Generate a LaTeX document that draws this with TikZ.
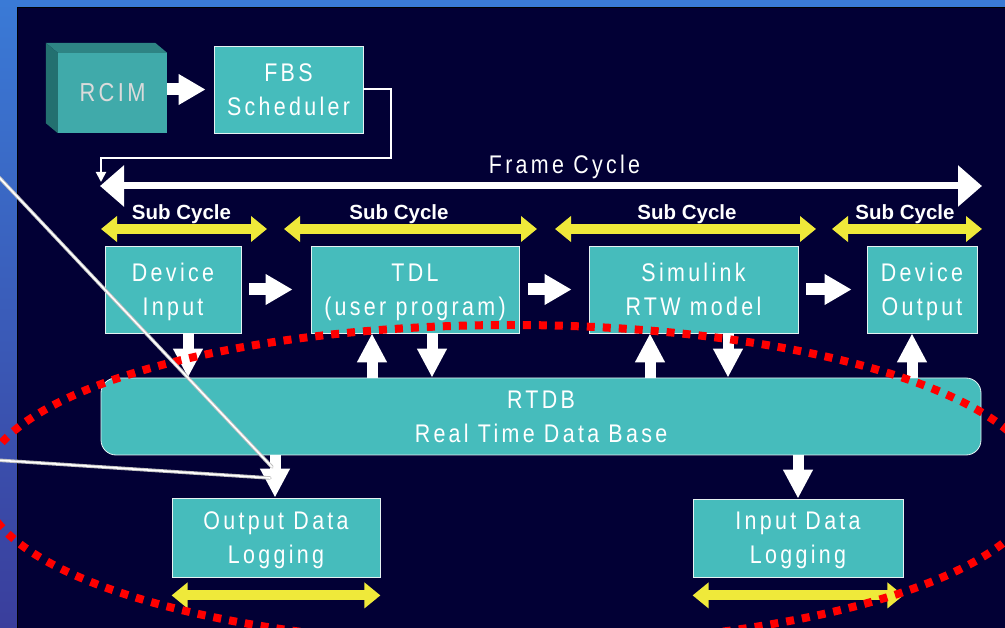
\documentclass[tikz,border=0pt]{standalone}
\usepackage{fontspec}
\setmainfont{Liberation Sans}
\newfontfamily\narrowfont{Liberation Sans}[FakeStretch=0.84,LetterSpace=13]
\usetikzlibrary{arrows.meta,calc}
\definecolor{navy}{HTML}{020035}
\definecolor{tealbox}{HTML}{46BCBC}
\definecolor{boxedge}{HTML}{E6F2F2}
\definecolor{rcfront}{HTML}{40AAAA}
\definecolor{rctop}{HTML}{2E8484}
\definecolor{rcside}{HTML}{237070}
\definecolor{subyellow}{HTML}{EFE93A}
\definecolor{stripblue}{HTML}{3A7AD6}
\definecolor{stripbot}{HTML}{3A3E9C}
\definecolor{ringred}{HTML}{FF0000}
\newcommand\boxfont{\narrowfont\fontsize{25.5}{34}\selectfont}
\tikzset{
  box/.style={draw=boxedge, line width=0.8pt, fill=tealbox, text=white, align=center, inner sep=0pt, font=\boxfont},
  harrow/.style={draw=white, line width=12pt, -{Triangle[width=29pt,length=27pt]}},
  varrow/.style={draw=white, line width=11pt, -{Triangle[width=28pt,length=29pt]}},
  yarrow/.style={draw=subyellow, line width=10pt, {Triangle[width=25pt,length=16pt]}-{Triangle[width=25pt,length=16pt]}},
  sublbl/.style={text=white, font=\bfseries\fontsize{20.5}{22}\selectfont, inner sep=0pt, anchor=base},
  thinline/.style={draw=white, line width=2pt, -{Triangle[width=10pt,length=10pt]}},
  pointer/.style={line cap=round},
}
\begin{document}
\begin{tikzpicture}[x=1pt,y=-1pt]
\useasboundingbox (0,0) rectangle (1005,628);
\clip (0,0) rectangle (1005,628);
% background
\fill[navy] (0,0) rectangle (1005,628);
\shade[top color=stripblue, bottom color=stripbot] (0,0) rectangle (17,628);
\fill[stripblue] (0,0) rectangle (1005,7);
\draw[black, line width=1.2pt] (17.6,628) -- (17.6,7.6) -- (1005,7.6);

% RCIM block
\node[fill=rcfront, minimum width=109pt, minimum height=80pt, inner sep=0pt,
      text=black!14, font=\narrowfont\fontsize{26}{30}\selectfont] (rcim) at (112.5,93) {RCIM};
\fill[rctop] (rcim.north west) -- ++(-12,-10) -- ($(rcim.north east)+(-12,-10)$) -- (rcim.north east) -- cycle;
\fill[rcside] (rcim.north west) -- ++(-12,-10) -- ($(rcim.south west)+(-12,-10)$) -- (rcim.south west) -- cycle;

% boxes
\node[box, minimum width=149pt, minimum height=87pt] (fbs) at (288.5,89.5) {FBS\\\smash{Scheduler}};
\node[box, minimum width=136pt, minimum height=87pt] (di) at (173,289.5) {Device\\\smash{Input}};
\node[box, minimum width=208pt, minimum height=87pt] (tdl) at (415,289.5) {TDL\\\smash{(user program)}};
\node[box, minimum width=209pt, minimum height=87pt] (sim) at (693.5,289.5) {Simulink\\\smash{RTW model}};
\node[box, minimum width=110pt, minimum height=87pt] (do) at (922,289.5) {Device\\\smash{Output}};
\node[box, rounded corners=15pt, minimum width=880pt, minimum height=77pt] (rtdb) at (541,416.5) {RTDB\\\smash{Real Time Data Base}};
\node[box, minimum width=208pt, minimum height=79pt] (odl) at (276,537.5) {Output Data\\\smash{Logging}};
\node[box, minimum width=210pt, minimum height=78pt] (idl) at (798,538) {Input Data\\\smash{Logging}};

% RCIM -> FBS
\draw[harrow, shorten >=8pt] (rcim.east |- fbs.west) -- (fbs.west);

% feedback line from scheduler to frame cycle
\coordinate (fbA) at (391,158);
\coordinate (fbB) at (101,182);
\draw[thinline] (fbs.east) -| (fbA) -| (fbB);

% frame cycle
\coordinate (fcl) at (100,186);
\coordinate (fcr) at (982,186);
\draw[draw=white, line width=7pt, {Triangle[width=40pt,length=24pt]}-{Triangle[width=40pt,length=24pt]}] (fcl) -- (fcr);
\node[text=white, font=\boxfont, inner sep=0pt, anchor=base] (fclab) at (564.5,174) {Frame Cycle};

% sub cycles
\coordinate (s1a) at (101,229); \coordinate (s1b) at (267,229);
\coordinate (s2a) at (284,229); \coordinate (s2b) at (537,229);
\coordinate (s3a) at (555,229); \coordinate (s3b) at (816,229);
\coordinate (s4a) at (832,229); \coordinate (s4b) at (982,229);
\draw[yarrow] (s1a) -- (s1b);
\draw[yarrow] (s2a) -- (s2b);
\draw[yarrow] (s3a) -- (s3b);
\draw[yarrow] (s4a) -- (s4b);
\node[sublbl] (sl1) at (181.5,220) {Sub Cycle};
\node[sublbl] (sl2) at (399,220) {Sub Cycle};
\node[sublbl] (sl3) at (687,220) {Sub Cycle};
\node[sublbl] (sl4) at (905,220) {Sub Cycle};

% horizontal flow
\draw[harrow, shorten <=8pt, shorten >=18pt] (di.east) -- (tdl.west);
\draw[harrow, shorten <=9pt, shorten >=17pt] (tdl.east) -- (sim.west);
\draw[harrow, shorten <=8pt, shorten >=15pt] (sim.east) -- (do.west);

% vertical flow
\coordinate (v1) at (188,0);
\coordinate (v2) at (372,0);
\coordinate (v3) at (432,0);
\coordinate (v4) at (650,0);
\coordinate (v5) at (728,0);
\coordinate (v6) at (912,0);
\coordinate (v7) at (275,0);
\draw[varrow] (di.south -| v1) -- (rtdb.north -| v1);
\draw[varrow] (rtdb.north -| v2) -- (tdl.south -| v2);
\draw[varrow] (tdl.south -| v3) -- (rtdb.north -| v3);
\draw[varrow] (rtdb.north -| v4) -- (sim.south -| v4);
\draw[varrow] (sim.south -| v5) -- (rtdb.north -| v5);
\draw[varrow] (rtdb.north -| v6) -- (do.south -| v6);
\draw[varrow] (rtdb.south -| v7) -- (odl.north -| v7);
\draw[varrow] (rtdb.south -| idl.north) -- (idl.north);

% logging cycles
\draw[yarrow] ([yshift=-18pt]odl.south west) -- ([yshift=-18pt]odl.south east);
\draw[yarrow] ([yshift=-18pt]idl.south west) -- ([yshift=-18pt]idl.south east);

% red dotted ring
\draw[ringred, line width=8pt, dash pattern=on 8pt off 8pt] (511,485) ellipse [x radius=528pt, y radius=160pt];

% grey pointer lines
\coordinate (g1a) at (-5,173); \coordinate (g1b) at (272,467);
\coordinate (g2a) at (-5,460); \coordinate (g2b) at (270,478);
\draw[pointer, draw=black!25, line width=3.5pt] (g1a) -- (g1b);
\draw[pointer, draw=white, line width=1.6pt] (g1a) -- (g1b);
\draw[pointer, draw=black!25, line width=3.5pt] (g2a) -- (g2b);
\draw[pointer, draw=white, line width=1.6pt] (g2a) -- (g2b);
\end{tikzpicture}
\end{document}
